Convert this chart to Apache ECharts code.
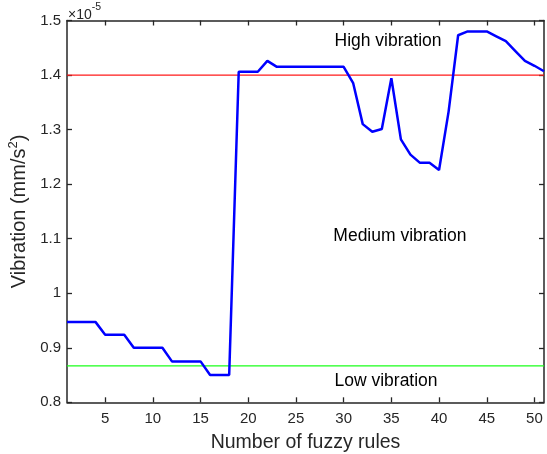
<!DOCTYPE html>
<html><head><meta charset="utf-8">
<script src="https://cdn.jsdelivr.net/npm/echarts@6/dist/echarts.min.js"></script>
<style>html,body{margin:0;padding:0;background:#fff}#c{width:547px;height:454px}</style>
</head><body><div id="c"></div>
<script>
// Number of fuzzy rules (x) and vibration values (×10^-5 mm/s²)
const rules = [1,2,3,4,5,6,7,8,9,10,11,12,13,14,15,16,17,18,19,20,21,22,23,24,25,26,27,28,29,30,31,32,33,34,35,36,37,38,39,40,41,42,43,44,45,46,47,48,49,50,51];
const vibration = [0.947,0.947,0.947,0.947,0.924,0.924,0.924,0.900,0.900,0.900,0.900,0.875,0.875,0.875,0.875,0.850,0.850,0.850,
  1.406,1.406,1.406,1.426,1.415,1.415,1.415,1.415,1.415,1.415,1.415,1.415,1.385,1.310,1.296,1.301,1.394,1.282,1.254,1.239,1.239,1.226,
  1.333,1.473,1.480,1.480,1.480,1.471,1.462,1.444,1.426,1.417,1.407];
const xTickValues = [5,10,15,20,25,30,35,40,45,50];
const highLevel = 1.4;
const lowLevel = 0.8667;
const zoneNames = ['High vibration','Medium vibration','Low vibration'];
const zoneX = [34.65, 35.9, 34.44];
const zoneY = [1.4624, 1.105, 0.839];

const lineData = rules.map((r,i)=>[r, vibration[i]]);
const xMin = rules[0], xMax = rules[rules.length-1];

const axisCol = '#262626';
const font = 'Liberation Sans, Arial, sans-serif';

const chart = echarts.init(document.getElementById('c'), null, {renderer:'canvas'});
const axLine = {show:true, lineStyle:{color:axisCol, width:1.5}};
const option = {
  animation:false,
  backgroundColor:'#fff',
  textStyle:{fontFamily:font},
  grid:{left:67, right:3, top:20.5, bottom:51.7, containLabel:false, outerBoundsMode:'none'},
  xAxis:[{
    type:'value', min:xMin, max:xMax, position:'bottom',
    axisLine:axLine,
    axisTick:{show:true, inside:true, length:5, customValues:xTickValues, lineStyle:{color:axisCol, width:1.3}},
    axisLabel:{show:true, customValues:xTickValues, fontSize:15, color:axisCol, margin:9, fontFamily:font},
    splitLine:{show:false},
    name:'Number of fuzzy rules', nameLocation:'middle', nameGap:30,
    nameTextStyle:{fontSize:19.5, color:axisCol, fontFamily:font}
  },{
    type:'value', min:xMin, max:xMax, position:'top',
    axisLine:axLine,
    axisTick:{show:true, inside:true, length:5, customValues:xTickValues, lineStyle:{color:axisCol, width:1.3}},
    axisLabel:{show:false}, splitLine:{show:false}
  }],
  yAxis:[{
    type:'value', min:0.8, max:1.5, interval:0.1, position:'left',
    axisLine:axLine,
    axisTick:{show:true, inside:true, length:5, lineStyle:{color:axisCol, width:1.3}},
    axisLabel:{show:true, fontSize:15, color:axisCol, margin:6, fontFamily:font},
    splitLine:{show:false},
    name:'{a|Vibration (mm/s}{s|2}{a|)}', nameLocation:'middle', nameGap:31,
    nameTextStyle:{color:axisCol, fontFamily:font,
      rich:{a:{fontSize:20, color:axisCol, fontFamily:font, lineHeight:24},
            s:{fontSize:13, color:axisCol, fontFamily:font, verticalAlign:'top', lineHeight:14}}}
  },{
    type:'value', min:0.8, max:1.5, interval:0.1, position:'right',
    axisLine:axLine,
    axisTick:{show:true, inside:true, length:5, lineStyle:{color:axisCol, width:1.3}},
    axisLabel:{show:false}, splitLine:{show:false}
  }],
  series:[
    {type:'line', data:[[xMin, highLevel],[xMax, highLevel]], symbol:'none', lineStyle:{color:'#ff1a1a', width:1.2}, silent:true, z:2},
    {type:'line', data:[[xMin, lowLevel],[xMax, lowLevel]], symbol:'none', lineStyle:{color:'#1aff1a', width:1.2}, silent:true, z:2},
    {type:'line', data:lineData, symbol:'none', lineStyle:{color:'#0000ff', width:2.5}, z:3}
  ],
  graphic:[{
    type:'text', left:68, top:2,
    style:{text:'{a|×10}{b|-5}', rich:{a:{fontSize:14, fill:axisCol, fontFamily:font, lineHeight:20, padding:[6,0,0,0]}, b:{fontSize:10.5, fill:axisCol, fontFamily:font, verticalAlign:'top', lineHeight:12}}}
  }]
};
chart.setOption(option);
const g = option.graphic.slice();
zoneNames.forEach((n,i)=>{
  const p = chart.convertToPixel({xAxisIndex:0, yAxisIndex:0}, [zoneX[i], zoneY[i]]);
  g.push({type:'text', x:p[0], y:p[1], style:{text:n, fontSize:17.5, fill:'#000', fontFamily:font, align:'center', verticalAlign:'middle'}});
});
chart.setOption({graphic:g});
</script></body></html>
